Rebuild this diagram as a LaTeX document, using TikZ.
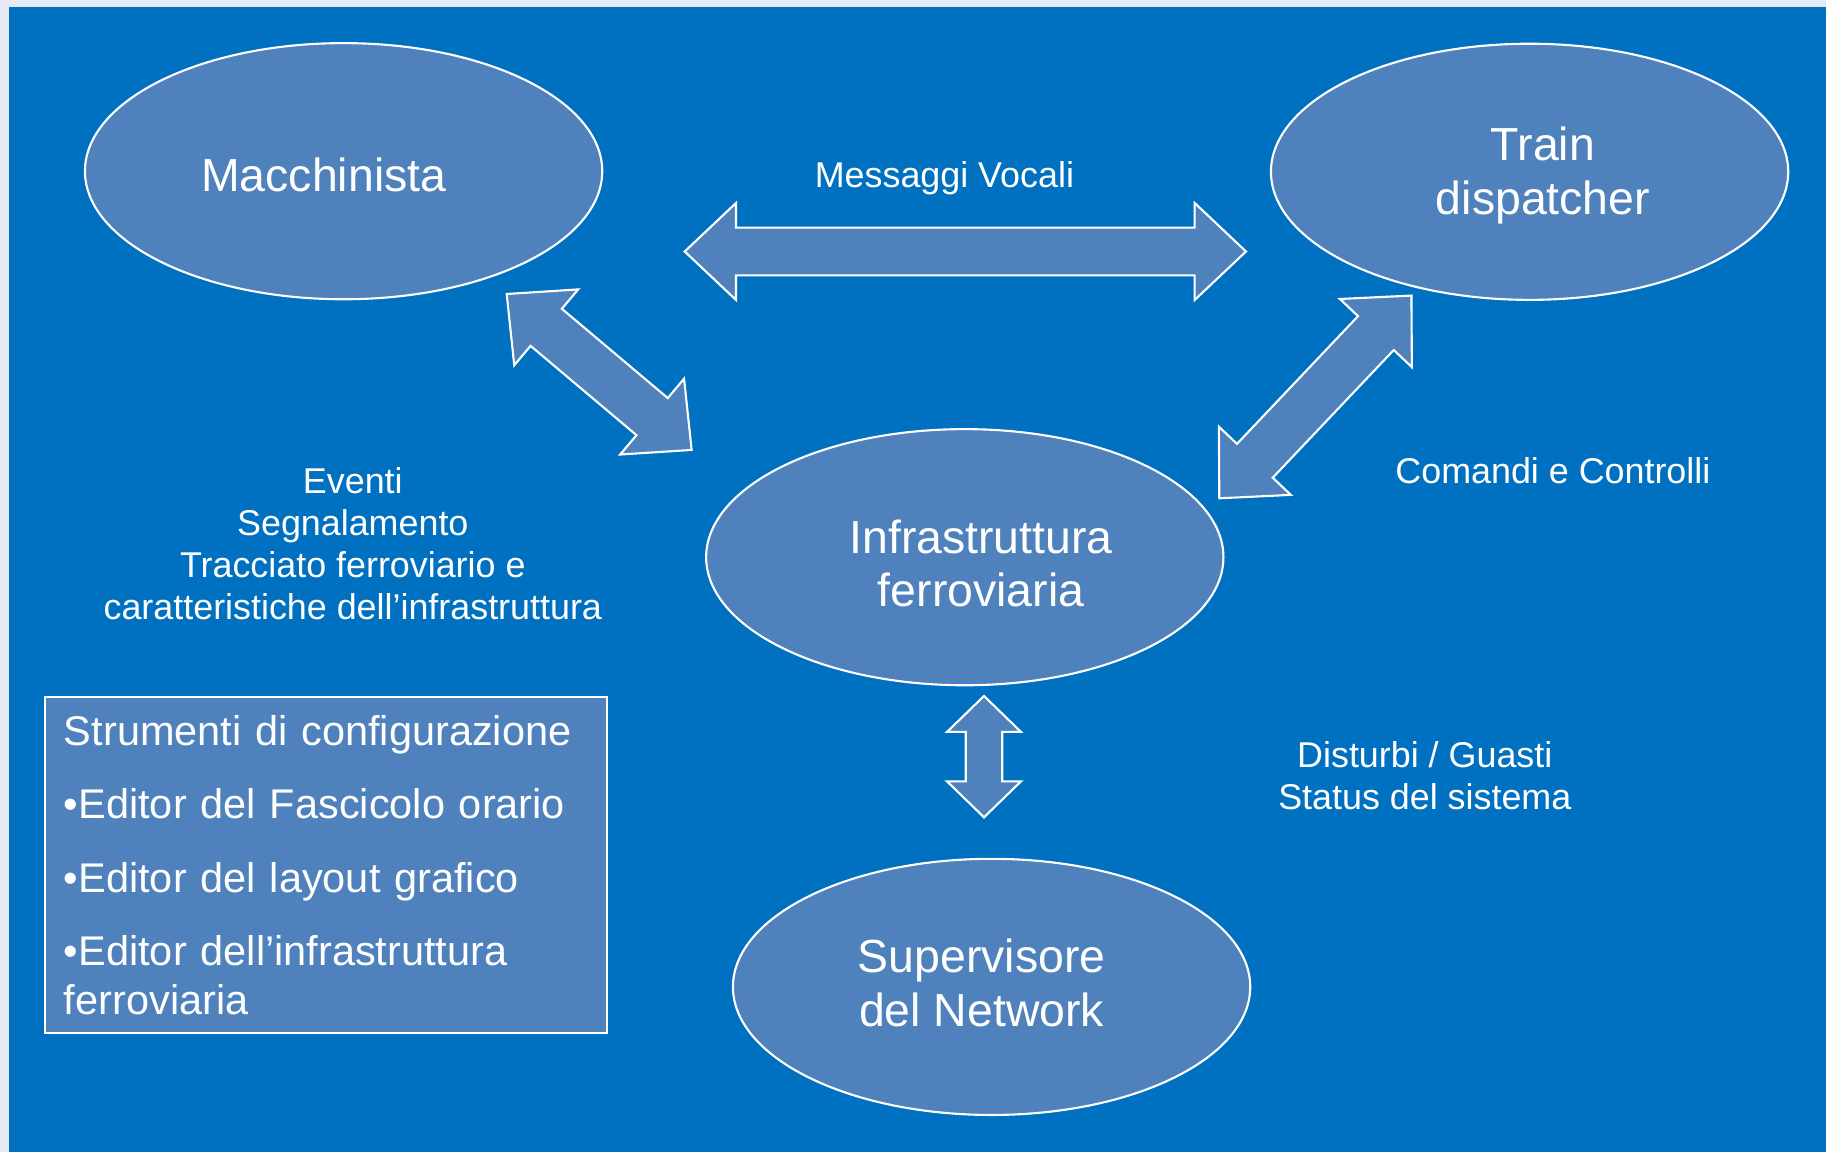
\documentclass[tikz,border=0pt]{standalone}
\usepackage{fontspec}
\setmainfont{Liberation Sans}
\usetikzlibrary{shapes.geometric,calc}

\definecolor{sfondo}{RGB}{0,112,192}
\definecolor{bordo}{RGB}{230,235,243}
\definecolor{riempi}{RGB}{79,129,189}

\tikzset{
  actor/.style={ellipse, draw=white, line width=0.6pt, fill=riempi,
    minimum width=5.17cm, minimum height=2.56cm},
  actortext/.style={align=center, text=white, font=\fontsize{13.2}{15.2}\selectfont},
  fatarrow/.style={draw=white, line width=0.6pt, fill=riempi, line join=miter},
  lbl/.style={text=white, align=center, font=\fontsize{10.2}{11.9}\selectfont},
  confbox/.style={draw=white, line width=0.6pt, fill=riempi, text=white,
    align=left, anchor=north west, inner xsep=5.3pt, text width=149pt,
    minimum width=5.615cm, minimum height=3.36cm,
    font=\fontsize{11.8}{13.9}\selectfont}
}

% fat double arrow: ends, shaft half width, head half width, head length
\newcommand{\bigarrow}[5]{%
  \draw[fatarrow] let \p1=($(#2)-(#1)$), \n1={atan2(\y1,\x1)}, \n2={veclen(\x1,\y1)} in
    [shift={(#1)}, rotate=\n1]
    (0pt,0pt) -- (#5,#4) -- (#5,#3) -- (\n2-#5,#3) -- (\n2-#5,#4) -- (\n2,0pt)
    -- (\n2-#5,-#4) -- (\n2-#5,-#3) -- (#5,-#3) -- (#5,-#4) -- cycle;}

\begin{document}
\begin{tikzpicture}[x=0.01cm, y=-0.01cm]
  \useasboundingbox (0,0) rectangle (1826,1152);
  % background
  \fill[bordo] (0,0) rectangle (1826,1152);
  \fill[sfondo] (9,7) rectangle (1826,1152);

  % actors
  \node[actor] (macch) at (343.6,171.2) {};
  \node[actor] (train) at (1529.6,171.8) {};
  \node[actor] (infra) at (964.8,557.2) {};
  \node[actor] (superv) at (991.6,986.9) {};
  \node[actortext] (macchtxt) at ($(macch)+(-19.8,3.5)$) {Macchinista};
  \node[actortext] (traintxt) at ($(train)+(13.4,3.5)$) {Train\\dispatcher};
  \node[actortext] (infratxt) at ($(infra)+(16.3,6.4)$) {Infrastruttura\\ferroviaria};
  \node[actortext] (supervtxt) at ($(superv)+(-9.9,-4.1)$) {Supervisore\\del Network};

  % arrow ends
  \coordinate (msgL) at (684.7,251.5);
  \coordinate (msgR) at (1246,251.5);
  \coordinate (evtA) at (506.7,294);
  \coordinate (evtB) at (691.7,450);
  \coordinate (cmdA) at (1219.3,498.3);
  \coordinate (cmdB) at (1412,295);
  \coordinate (supA) at (984,696);
  \coordinate (supB) at (984,817.3);

  \bigarrow{msgL}{msgR}{6.8pt}{13.8pt}{14.6pt}
  \bigarrow{evtA}{evtB}{6.9pt}{14.1pt}{14.7pt}
  \bigarrow{cmdA}{cmdB}{7.0pt}{14.1pt}{14.7pt}
  \bigarrow{supA}{supB}{5.2pt}{10.5pt}{10.2pt}

  % labels
  \node[lbl] (msg) at (944.4,178.2) {Messaggi Vocali};
  \node[lbl] (evt) at (352.8,543.8) {Eventi\\Segnalamento\\Tracciato ferroviario e\\caratteristiche dell’infrastruttura};
  \node[lbl] (cmd) at (1552.9,470.5) {Comandi e Controlli};
  \node[lbl] (dist) at (1424.8,776.1) {Disturbi / Guasti\\Status del sistema};

  % configuration tools
  \node[confbox] (config) at (44,696) {Strumenti di configurazione\\[7pt]
    •Editor del Fascicolo orario\\[7pt]
    •Editor del layout grafico\\[7pt]
    •Editor dell’infrastruttura\\
    ferroviaria};
\end{tikzpicture}
\end{document}
